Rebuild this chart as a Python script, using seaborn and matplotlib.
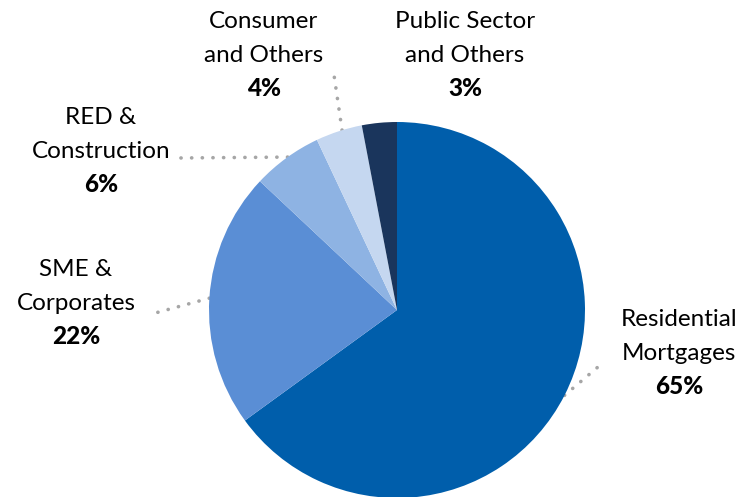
import numpy as np
import matplotlib
matplotlib.use("Agg")
import matplotlib.pyplot as plt
import seaborn as sns

# Loan portfolio breakdown
segments = ["Residential\nMortgages", "SME &\nCorporates", "RED &\nConstruction",
            "Consumer\nand Others", "Public Sector\nand Others"]
shares = [65, 22, 6, 4, 3]
colors = ["#005EAB", "#5A8ED5", "#8EB3E3", "#C5D7F0", "#1A355C"]

sns.set_theme(style="white")
plt.rcParams["font.family"] = ["Lato", "DejaVu Sans"]

fig = plt.figure(figsize=(7.44, 4.97), dpi=100)
ax = fig.add_axes([0, 0, 1, 1])

cx, cy, r = 397, 187, 188
wedges, _ = ax.pie(shares, colors=colors, startangle=90, counterclock=False,
                   center=(cx, cy), radius=r, frame=True,
                   wedgeprops=dict(linewidth=0))
ax.set_xlim(0, 744)
ax.set_ylim(0, 497)
ax.set_aspect("equal")
ax.axis("off")

# label layout: text centre x, top-line y (image px), leader anchor (fraction along wedge), leader end
labels_pos = [
    (679, 320, 0.5, (605, 361)),
    (76, 270, 0.5, (148, 315)),
    (101, 117, 0.48, (177, 158)),
    (264, 22, 0.43, (334, 75)),
    (465, 22, None, None),
]

fs = 17.5
for w, name, pct, (tx, ty, frac, end) in zip(wedges, segments, shares, labels_pos):
    l1, l2 = name.split("\n")
    for i, t in enumerate([l1, l2]):
        ax.text(tx, 497 - (ty + 34 * i), t, ha="center", va="center",
                fontsize=fs, color="black")
    ax.text(tx, 497 - (ty + 67), f"{pct}%", ha="center", va="center",
            fontsize=fs, fontweight="black", color="black")
    if frac is not None:
        ang = np.deg2rad(w.theta1 + frac * (w.theta2 - w.theta1))
        sx, sy = cx + r * np.cos(ang), cy + r * np.sin(ang)
        ax.plot([sx, end[0]], [sy, 497 - end[1]], color="#A6A6A6", lw=2.6,
                linestyle=(0, (0.05, 2.9)), dash_capstyle="round", zorder=0.5)

fig.savefig("out.png", dpi=100)
